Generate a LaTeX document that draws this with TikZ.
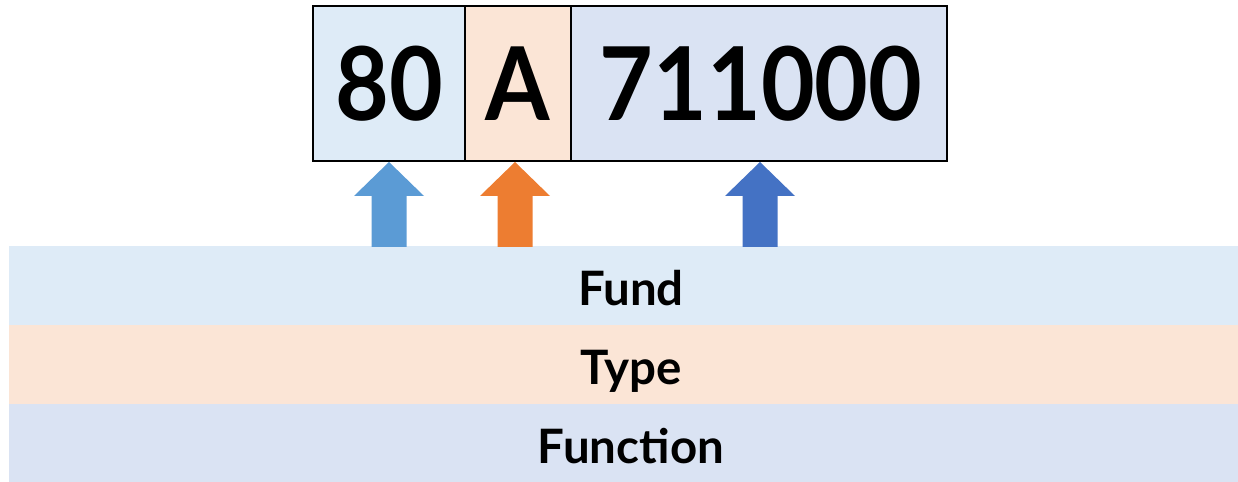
\documentclass[tikz,border=0pt]{standalone}
\usepackage{fontspec}
\setmainfont{Lato}
\usepackage{graphicx}
\usepackage{tikz}

\definecolor{fundfill}{HTML}{DEEBF7}
\definecolor{typefill}{HTML}{FBE5D6}
\definecolor{funcfill}{HTML}{DAE3F3}
\definecolor{fundarrow}{HTML}{5B9BD5}
\definecolor{typearrow}{HTML}{ED7D31}
\definecolor{funcarrow}{HTML}{4472C4}

\newcommand{\codestr}[1]{\scalebox{0.91}[1]{#1}}

\tikzset{
  codetext/.style={anchor=base, font=\fontsize{58}{58}\selectfont\bfseries},
  bandtext/.style={anchor=base, font=\fontsize{27}{27}\selectfont\bfseries},
}

\begin{document}
\begin{tikzpicture}[x=0.02cm, y=-0.02cm]
\useasboundingbox (0, 0) rectangle (1238, 482);

% code boxes
\draw[line width=1.1pt, fill=fundfill] (313, 6) rectangle (465, 161);
\draw[line width=1.1pt, fill=typefill] (465, 6) rectangle (571, 161);
\draw[line width=1.1pt, fill=funcfill] (571, 6) rectangle (947, 161);
\node[codetext] (fundcode) at (389, 121) {\codestr{80}};
\node[codetext] (typecode) at (518, 121) {\codestr{A}};
\node[codetext] (funccode) at (761, 121) {\codestr{711000}};

% bands
\fill[fundfill] (9, 246) rectangle (1238, 325);
\fill[typefill] (9, 325) rectangle (1238, 404);
\fill[funcfill] (9, 404) rectangle (1238, 482);
\node[bandtext] (fundband) at (631, 306) {Fund};
\node[bandtext] (typeband) at (631, 385) {Type};
\node[bandtext] (funcband) at (631, 464) {Function};

% block arrows
\foreach \cx/\col in {389/fundarrow, 515/typearrow, 760/funcarrow}
  \fill[\col] (\cx-17.5, 247) -- (\cx-17.5, 196) -- (\cx-35, 196) -- (\cx, 162)
    -- (\cx+35, 196) -- (\cx+17.5, 196) -- (\cx+17.5, 247) -- cycle;
\end{tikzpicture}
\end{document}
